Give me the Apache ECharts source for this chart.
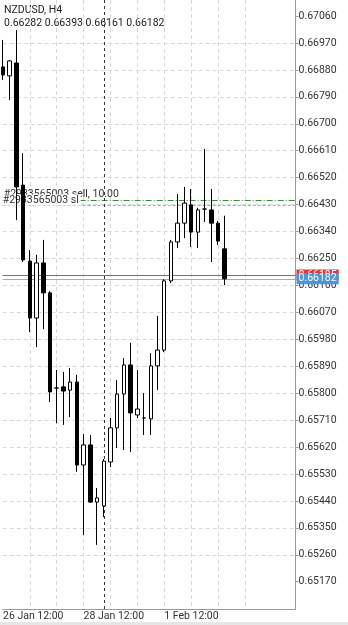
<!DOCTYPE html>
<html><head><meta charset="utf-8">
<script src="https://cdn.jsdelivr.net/npm/echarts@6/dist/echarts.min.js"></script>
<style>html,body{margin:0;padding:0;background:#fff}#c{width:348px;height:625px}</style>
</head><body><div id="c"></div><script>
const symbolName = 'NZDUSD, H4';
const times = ['26 Jan 12:00','26 Jan 16:00','26 Jan 20:00','27 Jan 00:00','27 Jan 04:00','27 Jan 08:00','27 Jan 12:00','27 Jan 16:00','27 Jan 20:00','28 Jan 00:00','28 Jan 04:00','28 Jan 08:00',
 '28 Jan 12:00','28 Jan 16:00','28 Jan 20:00','29 Jan 00:00','29 Jan 04:00','29 Jan 08:00','29 Jan 12:00','29 Jan 16:00','29 Jan 20:00','1 Feb 00:00','1 Feb 04:00','1 Feb 08:00',
 '1 Feb 12:00','1 Feb 16:00','1 Feb 20:00','2 Feb 00:00','2 Feb 04:00','2 Feb 08:00','2 Feb 12:00','2 Feb 16:00','2 Feb 20:00','3 Feb 00:00'];
const opens  = [0.66890,0.66860,0.66903,0.66495,0.66241,0.66051,0.66235,0.66135,0.65817,0.65821,0.65810,0.65837,
                0.65560,0.65627,0.65436,0.65423,0.65570,0.65684,0.65797,0.65894,0.65727,0.65717,0.65714,0.65891,
                0.65944,0.66175,0.66305,0.66368,0.66429,0.66338,0.66415,0.66412,0.66368,0.66282];
const highs  = [0.66980,0.66913,0.67013,0.66602,0.66278,0.66262,0.66312,0.66141,0.65877,0.65871,0.65884,0.65861,
                0.65664,0.65660,0.65483,0.65580,0.65717,0.65844,0.65917,0.65968,0.65877,0.65800,0.65934,0.66058,
                0.66181,0.66312,0.66465,0.66489,0.66482,0.66419,0.66616,0.66482,0.66375,0.66393];
const lows   = [0.66846,0.66779,0.66378,0.66238,0.66004,0.65954,0.66014,0.65770,0.65700,0.65694,0.65720,0.65537,
                0.65326,0.65433,0.65293,0.65386,0.65553,0.65617,0.65610,0.65603,0.65717,0.65660,0.65660,0.65810,
                0.65937,0.66168,0.66285,0.66318,0.66288,0.66285,0.66372,0.66238,0.66295,0.66161];
const closes = [0.66863,0.66910,0.66489,0.66245,0.66051,0.66235,0.66135,0.65804,0.65817,0.65807,0.65837,0.65560,
                0.65627,0.65436,0.65450,0.65573,0.65684,0.65797,0.65894,0.65734,0.65747,0.65717,0.65891,0.65944,
                0.66175,0.66305,0.66368,0.66435,0.66338,0.66412,0.66415,0.66368,0.66308,0.66182];
const yTicks = [0.65170,0.65260,0.65350,0.65440,0.65530,0.65620,0.65710,0.65800,0.65890,0.65980,0.66070,
                0.66160,0.66250,0.66340,0.66430,0.66520,0.66610,0.66700,0.66790,0.66880,0.66970,0.67060];
const xGridIdx = [0,4,8,12,16,20,24,28,32,36,40];
const xLabelIdx = [0,12,24];
const sellPrice = 0.66443, slPrice = 0.66427, askPrice = 0.66195, bidPrice = 0.66182;
const sellLabel = '#2933565003 sell, 10.00', slLabel = '#2933565003 sl';
const separatorIdx = 15;

const last = opens.length - 1;
const ohlcText = [opens[last], highs[last], lows[last], closes[last]].map(v => v.toFixed(5)).join(' ');
const FONT = 'Roboto';
const gridLine = {show:true, showMinLine:false, showMaxLine:false, lineStyle:{color:'#d8d8d8', type:[4,3], width:1}};

const chart = echarts.init(document.getElementById('c'), null, {renderer:'canvas'});
chart.setOption({
  animation:false,
  backgroundColor:'#fff',
  grid:{left:0, right:52.5, top:0, bottom:16, containLabel:false},
  xAxis:{type:'value', min:-0.05, max:43.54,
    axisLine:{show:true, onZero:false, lineStyle:{color:'#9a9a9a', width:1}},
    axisTick:{show:false, customValues:xGridIdx},
    axisLabel:{customValues:xLabelIdx, formatter:v => times[Math.round(v)] || '', align:'left', color:'#333', fontSize:10.5, fontFamily:FONT, margin:2},
    splitLine:gridLine},
  yAxis:{type:'value', position:'right', min:0.650788, max:0.671135, scale:true,
    axisLine:{show:true, onZero:false, lineStyle:{color:'#9a9a9a', width:1}},
    axisTick:{show:true, customValues:yTicks, length:3, lineStyle:{color:'#9a9a9a'}},
    axisLabel:{customValues:yTicks, formatter:v => v.toFixed(5), color:'#333', fontSize:10.5, fontFamily:FONT, margin:3},
    splitLine:gridLine},
  graphic:[
    {type:'text', left:4, top:5, style:{text:symbolName, font:'10.5px Roboto', fill:'#222'}},
    {type:'text', left:4, top:18, style:{text:ohlcText, font:'10.5px Roboto', fill:'#222'}},
    {type:'rect', shape:{x:0, y:622, width:348, height:3}, style:{fill:'#e6e6e6'}}
  ],
  series:[
    {type:'candlestick', z:3, barWidth:4,
     data:times.map((t,i) => [i, opens[i], closes[i], lows[i], highs[i]]),
     encode:{x:0, y:[1,2,3,4]},
     itemStyle:{color:'#fff', color0:'#000', borderColor:'#000', borderColor0:'#000', borderWidth:1},
     markLine:{z:1, silent:true, symbol:'none', animation:false, precision:5,
       data:[
        {yAxis:sellPrice, lineStyle:{color:'#3c8c3c', type:[6,2,1,2], width:1},
         label:{show:true, position:'insideStartTop', distance:1, formatter:sellLabel, color:'#333', fontSize:10.5, fontFamily:FONT}},
        {yAxis:slPrice, lineStyle:{color:'#c9a27a', type:[3,2], width:1},
         label:{show:true, position:'insideStartTop', distance:0, formatter:slLabel, color:'#333', fontSize:10.5, fontFamily:FONT, backgroundColor:'#fff', padding:[0,2,0,0]}},
        {yAxis:askPrice, lineStyle:{color:'#d24a4a', type:'solid', width:1},
         label:{show:true, position:'end', distance:1, formatter:askPrice.toFixed(5), color:'#fff', backgroundColor:'#e03636', fontSize:10.5, fontFamily:FONT, padding:[0,2], lineHeight:11}},
        {yAxis:bidPrice, lineStyle:{color:'#6cc4c4', type:'solid', width:1},
         label:{show:true, position:'end', distance:1, formatter:bidPrice.toFixed(5), color:'#fff', backgroundColor:'#4a95e0', fontSize:10.5, fontFamily:FONT, padding:[0,2], lineHeight:11}},
        {xAxis:separatorIdx, lineStyle:{color:'#333', type:[3,3], width:1}, label:{show:false}}
       ]}}
  ]
});
</script></body></html>
